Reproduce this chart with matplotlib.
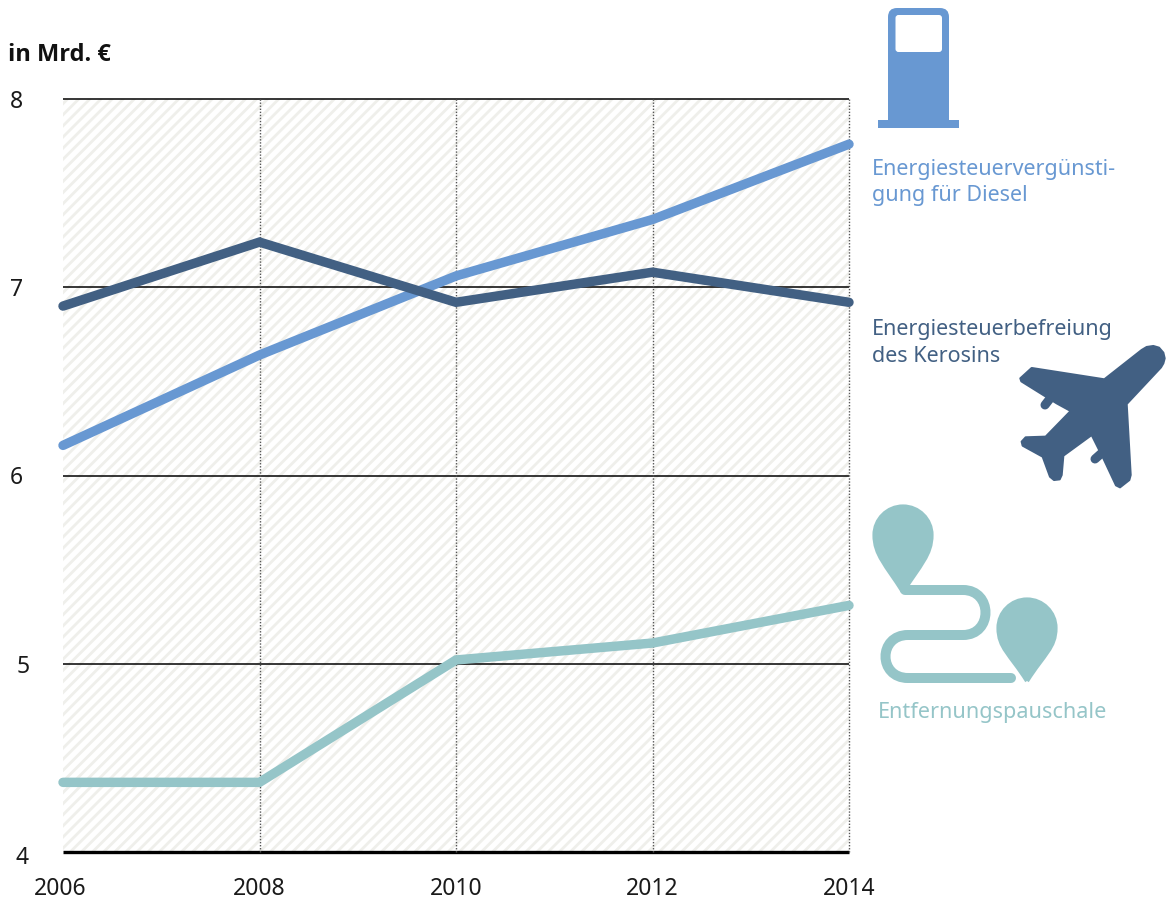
#!/usr/bin/env python3
"""Tax breaks for transport, 2006-2014, in bn euro."""
import matplotlib
matplotlib.use("Agg")
import matplotlib.pyplot as plt
from matplotlib.patches import PathPatch, Polygon, FancyBboxPatch
from matplotlib.path import Path
from matplotlib.transforms import ScaledTranslation

plt.rcParams.update({"font.family": ["Noto Sans", "DejaVu Sans"],
                     "hatch.linewidth": 2.0})

YEARS = [2006, 2008, 2010, 2012, 2014]
DIESEL = [6.16, 6.64, 7.06, 7.36, 7.76]
KEROSIN = [6.90, 7.24, 6.92, 7.08, 6.92]
PENDLER = [4.37, 4.37, 5.02, 5.11, 5.31]
YTICKS = [4, 5, 6, 7, 8]

C_DIESEL = "#6898d2"
C_KEROSIN = "#426083"
C_PENDLER = "#95c5c8"

W, H = 1166, 900


def pin(ov, cx, cy, r, tip):
    # teardrop marker, circle on top and a point below
    k = 0.552 * r
    verts = [(cx, tip), (cx - 17, tip - 27), (cx - r, cy + 0.7 * r), (cx - r, cy),
             (cx - r, cy - k), (cx - k, cy - r), (cx, cy - r),
             (cx + k, cy - r), (cx + r, cy - k), (cx + r, cy),
             (cx + r, cy + 0.7 * r), (cx + 17, tip - 27), (cx, tip)]
    codes = [Path.MOVETO] + [Path.CURVE4] * 12
    ov.add_patch(PathPatch(Path(verts, codes), fc=C_PENDLER, ec=C_PENDLER,
                           lw=3, joinstyle="round"))


def pump(ov):
    ov.add_patch(FancyBboxPatch((888, 8), 61, 112, boxstyle="round,pad=0,rounding_size=9",
                                fc=C_DIESEL, ec="none"))
    ov.add_patch(plt.Rectangle((888, 100), 61, 20, fc=C_DIESEL, ec="none"))
    ov.add_patch(plt.Rectangle((878, 120), 81, 8, fc=C_DIESEL, ec="none"))
    ov.add_patch(FancyBboxPatch((895.5, 15), 46.5, 37, boxstyle="round,pad=0,rounding_size=3",
                                fc="white", ec="none"))


def plane(ov):
    # outline, corners rounded by the stroke
    outline = [(733, 208), (845, 120), (860, 111), (880, 108), (897, 113), (910, 128),
               (914, 145), (910, 160), (903, 172),
               (800, 282), (812, 495), (808, 510), (780, 532), (768, 526), (730, 445),
               (695, 375), (610, 437), (605, 495), (599, 508), (582, 510), (570, 500),
               (548, 440), (488, 407), (485, 395), (497, 382), (557, 380),
               (632, 303), (590, 280), (484, 214), (481, 205), (515, 174)]
    pts = [(860 + x / 3, 310 + y / 3) for x, y in outline]
    ov.add_patch(Polygon(pts, closed=True, fc=C_KEROSIN, ec=C_KEROSIN, lw=1.5,
                         joinstyle="round"))
    for a, b in (((1052, 396), (1045, 405)), ((1104, 451), (1095, 459))):
        ov.plot([a[0], b[0]], [a[1], b[1]], color=C_KEROSIN, lw=6.5,
                solid_capstyle="round")


def route(ov):
    # road between the two pins
    verts = [(905, 590), (963, 590),
             (993, 590), (993, 635), (963, 635),
             (908, 635),
             (878, 635), (878, 678), (908, 678),
             (1011, 678)]
    codes = [Path.MOVETO, Path.LINETO, Path.CURVE4, Path.CURVE4, Path.CURVE4,
             Path.LINETO, Path.CURVE4, Path.CURVE4, Path.CURVE4, Path.LINETO]
    ov.add_patch(PathPatch(Path(verts, codes), fc="none", ec=C_PENDLER, lw=7.2,
                           capstyle="round", joinstyle="round"))


def nudge(fig, label, dx, dy):
    # shift a tick label by some pixels
    label.set_transform(label.get_transform() +
                        ScaledTranslation(dx / 100, dy / 100, fig.dpi_scale_trans))


def main():
    fig = plt.figure(figsize=(W / 100, H / 100), dpi=100)
    ax = fig.add_axes([63 / W, (H - 852) / H, 786 / W, 753 / H])
    ax.set_xlim(2006, 2014)
    ax.set_ylim(4, 8)
    for s in ax.spines.values():
        s.set_visible(False)

    ax.axhspan(4, 8, fc="white", ec="#efefeb", hatch="///", lw=0, zorder=0)
    for y in YTICKS[1:]:
        ax.axhline(y, color="black", lw=1.1, zorder=1, solid_capstyle="butt",
                   clip_on=False)
    ax.axhline(4, color="black", lw=2.4, zorder=1, clip_on=False, solid_capstyle="butt")
    for x in YEARS[1:]:
        ax.axvline(x, color="#555555", lw=1, ls=(0, (1, 1.2)), zorder=1, clip_on=False)

    for vals, col in ((PENDLER, C_PENDLER), (DIESEL, C_DIESEL), (KEROSIN, C_KEROSIN)):
        ax.plot(YEARS, vals, color=col, lw=6.8, zorder=3, clip_on=False,
                solid_capstyle="round", solid_joinstyle="miter")

    ax.set_xticks(YEARS)
    ax.set_yticks(YTICKS)
    ax.tick_params(length=0, labelsize=16.5, colors="#1a1a1a")
    ax.tick_params(axis="x", pad=18)
    ax.tick_params(axis="y", pad=29)
    nudge(fig, ax.get_xticklabels()[0], -3, 0)
    nudge(fig, ax.get_yticklabels()[0], 6, -3)
    nudge(fig, ax.get_yticklabels()[1], 7, 0)

    # overlay in pixel coordinates for icons and notes
    ov = fig.add_axes([0, 0, 1, 1], facecolor="none")
    ov.set_xlim(0, W)
    ov.set_ylim(H, 0)
    ov.axis("off")

    ov.text(8, 55, "in Mrd. €", family=["Open Sans", "DejaVu Sans"], fontsize=17,
            fontweight="bold", va="center", color="#111111")
    ov.text(872, 182.5, "Energiesteuervergünsti-\ngung für Diesel", color=C_DIESEL,
            fontsize=15.5, va="center", linespacing=1.36)
    ov.text(872, 343, "Energiesteuerbefreiung\ndes Kerosins", color=C_KEROSIN,
            fontsize=15.5, va="center", linespacing=1.36)
    ov.text(878, 712.5, "Entfernungspauschale", color=C_PENDLER, fontsize=15.6,
            va="center")

    pump(ov)
    plane(ov)
    route(ov)
    pin(ov, 903, 535, 28.5, 592)
    pin(ov, 1027, 628, 28.5, 681)

    fig.savefig("out.png", dpi=100)


if __name__ == "__main__":
    main()
